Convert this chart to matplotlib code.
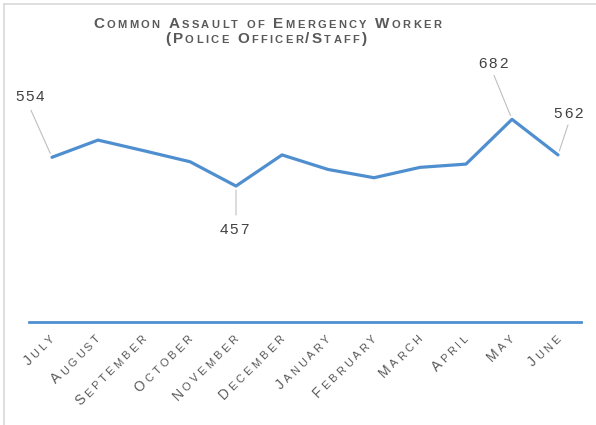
import numpy as np
import matplotlib
matplotlib.use("Agg")
import matplotlib.pyplot as plt
from matplotlib.font_manager import FontProperties, findfont, get_font
from matplotlib.transforms import IdentityTransform
from matplotlib.lines import Line2D

DPI = 100
FAMILY = "Liberation Sans"

months = ["July", "August", "September", "October", "November", "December",
          "January", "February", "March", "April", "May", "June"]
counts = [554, 612, 576, 539, 457, 562, 513, 485, 520, 531, 682, 562]
title_lines = ["Common Assault of Emergency Worker", "(Police Officer/Staff)"]

# which points get a data label: index -> (label centre offset, leader end offset) in px
labelled = {0: ((-22, 62), (-21, 47)),
            4: ((-2, -42), (0, -29)),
            10: ((-19, 57), (-18, 44)),
            11: ((10, 42), (10, 30))}

line_color = "#4f8fd0"
text_gray = "#595959"


def advance(ch, size, weight):
    font = get_font(findfont(FontProperties(family=FAMILY, weight=weight)))
    font.set_size(size, DPI)
    g = font.load_char(ord(ch))
    return g.linearHoriAdvance / 65536


def spaced(fig, x, y, s, big, small, track, color, weight="normal", angle=0, ha="center"):
    # small caps with letter spacing, drawn char by char in display pixels
    chars = [(c.upper(), small) if c.islower() else (c, big) for c in s]
    advs = [advance(c, sz, weight) for c, sz in chars]
    total = sum(advs) + track * (len(chars) - 1)
    pos = {"center": -total / 2, "right": -total, "left": 0}[ha]
    r = np.radians(angle)
    for (c, sz), a in zip(chars, advs):
        fig.text(x + pos * np.cos(r), y + pos * np.sin(r), c,
                 transform=IdentityTransform(), fontsize=sz, family=FAMILY,
                 weight=weight, color=color, rotation=angle,
                 rotation_mode="anchor", ha="left", va="baseline")
        pos += a + track


fig = plt.figure(figsize=(5.96, 4.25), dpi=DPI)
ax = fig.add_axes([29 / 596, 103.5 / 425, 552 / 596, 281.6 / 425])

x = np.arange(len(months))
ax.plot(x, counts, color=line_color, lw=2.3, solid_capstyle="round", zorder=3)
ax.set_xlim(-0.5, len(months) - 0.5)
ax.set_ylim(0, 950)
for side in ["top", "right", "left"]:
    ax.spines[side].set_visible(False)
ax.spines["bottom"].set_color(line_color)
ax.spines["bottom"].set_linewidth(2.0)
ax.set_xticks([])
ax.set_yticks([])

fig.canvas.draw()

# leader lines + data labels
for i, (lab_off, lead_off) in labelled.items():
    ax.annotate("", xy=(i, counts[i]), xytext=lead_off, textcoords="offset pixels",
                arrowprops=dict(arrowstyle="-", color="#bfbfbf", lw=0.8,
                                shrinkA=0, shrinkB=3))
    px, py = ax.transData.transform((i, counts[i]))
    spaced(fig, px + lab_off[0], py + lab_off[1] - 5.5, str(counts[i]),
           11, 11, 1.8, "#404040")

# rotated month labels
for i, m in enumerate(months):
    px, py = ax.transData.transform((i, 0))
    spaced(fig, px + 3, py - 18, m, 10, 8, 3.0, text_gray, angle=45, ha="right")

# title
spaced(fig, 267, 425 - 28, title_lines[0], 11, 8, 2.3, text_gray, weight="bold")
spaced(fig, 266, 425 - 43, title_lines[1], 11, 8, 2.3, text_gray, weight="bold")

# light frame on left and top
fig.add_artist(Line2D([4 / 596, 4 / 596], [0, 1 - 4 / 425], color="#d9d9d9", lw=1.2))
fig.add_artist(Line2D([4 / 596, 1], [1 - 4 / 425, 1 - 4 / 425], color="#d9d9d9", lw=1.2))

fig.savefig("out.png", dpi=DPI)
